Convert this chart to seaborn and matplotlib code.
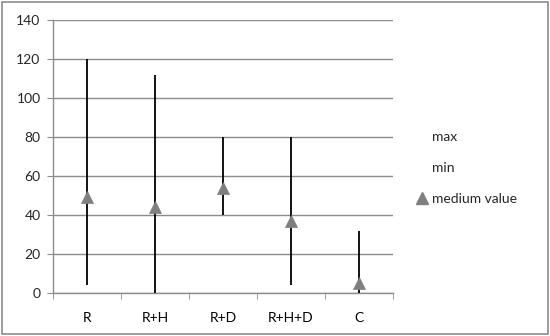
import pandas as pd
import matplotlib.pyplot as plt
import seaborn as sns
from matplotlib.lines import Line2D
from matplotlib.patches import Rectangle

# data
groups = ['R', 'R+H', 'R+D', 'R+H+D', 'C']
max_vals = [120, 112, 80, 80, 32]
min_vals = [4, 0, 40, 4, 0]
medium_vals = [49, 44, 54, 37, 5]

df = pd.DataFrame({'group': groups, 'max': max_vals, 'min': min_vals, 'medium': medium_vals})

sns.set_style('white')
plt.rcParams['font.family'] = ['Lato', 'DejaVu Sans']

fig = plt.figure(figsize=(5.5, 3.36), dpi=100)
ax = fig.add_axes([0.0964, 0.128, 0.618, 0.8125])

# high-low lines
x = range(len(df))
ax.vlines(x, df['min'], df['max'], color='black', linewidth=1.3, zorder=3)

# medium value markers
sns.scatterplot(data=df, x='group', y='medium', marker='^', s=75, color='#7f7f7f',
                edgecolor='#7f7f7f', linewidth=0.5, ax=ax, zorder=4)

ax.set_xlim(-0.5, len(df) - 0.5)
ax.set_ylim(0, 140)
ax.set_yticks(range(0, 141, 20))
ax.set_xticks(list(x))
ax.set_xticklabels(groups)
ax.set_xticks([i - 0.5 for i in range(len(df) + 1)], minor=True)
ax.yaxis.grid(True, color='#8c8c8c', linewidth=1)
ax.set_axisbelow(True)
ax.set_xlabel('')
ax.set_ylabel('')

for side in ['top', 'right']:
    ax.spines[side].set_visible(False)
for side in ['left', 'bottom']:
    ax.spines[side].set_color('#8c8c8c')
    ax.spines[side].set_linewidth(1)

ax.tick_params(axis='x', which='major', length=0, pad=14, labelsize=10, colors='black')
ax.tick_params(axis='x', which='minor', length=4, color='#8c8c8c', direction='out', bottom=True)
ax.tick_params(axis='y', length=4, color='#8c8c8c', direction='out', left=True, labelsize=10, pad=5)

handles = [
    Line2D([], [], linestyle='none', label='max'),
    Line2D([], [], linestyle='none', label='min'),
    Line2D([], [], linestyle='none', marker='^', markersize=8, color='#7f7f7f', label='medium value'),
]
fig.legend(handles=handles, loc='center left', bbox_to_anchor=(0.735, 0.5), frameon=False,
           fontsize=10, handlelength=0.8, handletextpad=0.3, labelspacing=1.35)

fig.patches.append(Rectangle((0.004, 0.006), 0.992, 0.988, transform=fig.transFigure,
                             fill=False, edgecolor='#8c8c8c', linewidth=1.2))

fig.savefig('out.png', dpi=100)
